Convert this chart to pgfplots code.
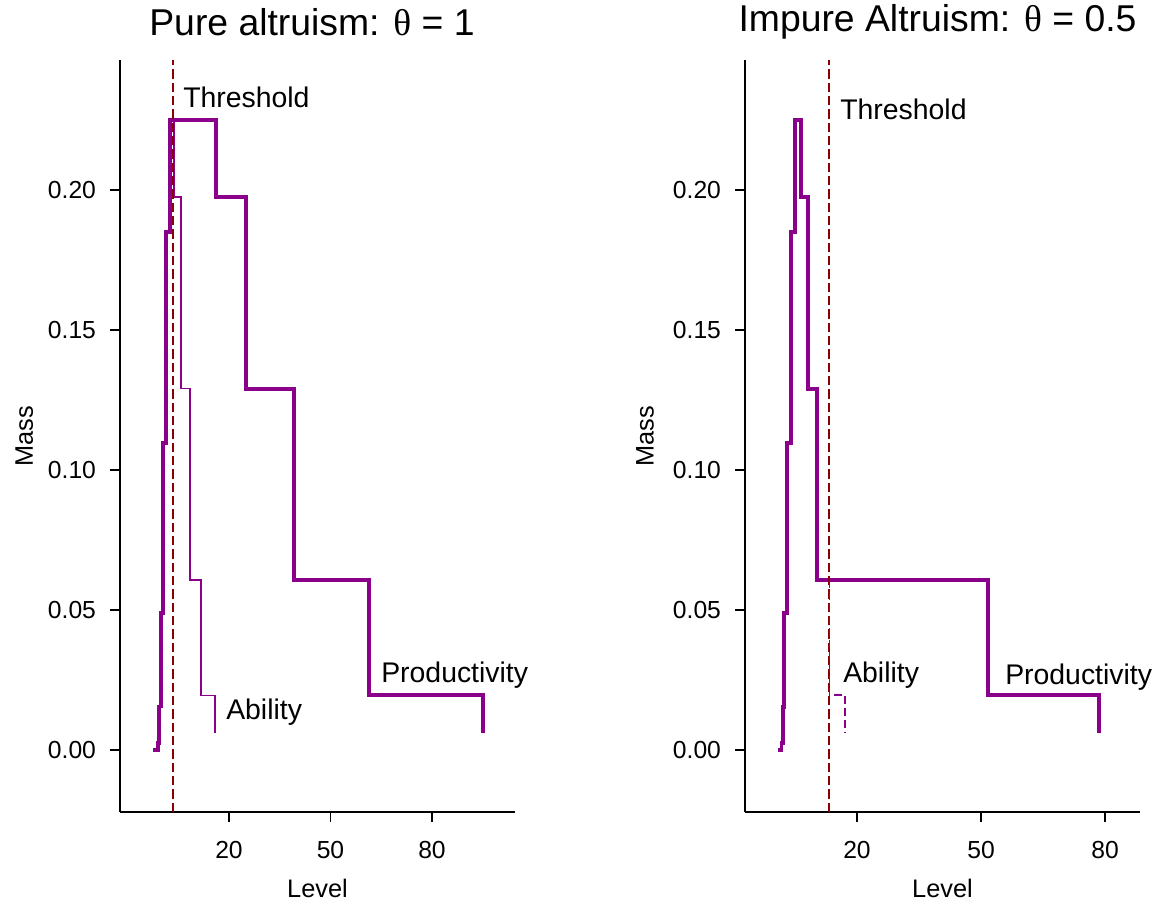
\documentclass[border=0pt]{standalone}
\usepackage{fontspec}
\setmainfont{Liberation Sans}
\newfontfamily\grk{Liberation Serif}
\usepackage{pgfplots}
\pgfplotsset{compat=1.18}
\definecolor{dm}{HTML}{8B008B}
\definecolor{dr}{HTML}{8B0000}
\tikzset{
 prod/.style={dm, line width=2.8pt, line join=miter},
 abil/.style={dm, line width=0.9pt},
 thr/.style={dr, line width=1.3pt, dash pattern=on 7pt off 3pt},
 ann/.style={anchor=west, inner sep=0pt, font=\fontsize{21.3}{24}\selectfont},
}
\begin{document}
\begin{tikzpicture}[x=0.75pt,y=0.75pt]
\useasboundingbox (0,0) rectangle (1166,911);
\pgfplotsset{
 panel/.style={
  at={(#1,74.25pt)}, anchor=south west, scale only axis,
  width=296.25pt, height=564pt,
  axis lines*=left,
  axis line style={line width=1.1pt, black},
  ymin=-0.02214, ymax=0.2464,
  xtick={20,50,80}, ytick={0,0.05,0.1,0.15,0.2},
  xtick align=outside, ytick align=outside, major tick length=7.5pt,
  xtick style={draw=black, line width=1.1pt},
  ytick style={draw=black, line width=1.1pt},
  ticklabel style={font=\fontsize{18.5}{20}\selectfont},
  xticklabel style={yshift=-11pt},
  yticklabel style={xshift=-7pt, /pgf/number format/.cd, fixed, fixed zerofill, precision=2},
  /pgf/number format/assume math mode=true,
  label style={font=\fontsize{19}{22}\selectfont},
  xlabel={Level}, ylabel={Mass},
  xlabel style={at={(axis description cs:0.5,-0.102)}, anchor=center},
  clip=false,
  const plot,
 },
}
% Left panel
\begin{axis}[panel=90pt, xmin=-12.22, xmax=104.54,
  ylabel style={at={(axis description cs:-0.242,0.5)}, anchor=center}]
\addplot[abil] coordinates {(-2.38,0) (-0.90,0.0024) (-0.60,0.0155) (-0.10,0.049) (0.49,0.1096) (1.38,0.185) (2.56,0.225) (3.74,0.1975) (5.81,0.129) (8.47,0.0607) (11.72,0.0196) (15.86,0.006)};
\addplot[prod] coordinates {(-2.38,0) (-0.90,0.0024) (-0.60,0.0155) (-0.10,0.049) (0.49,0.1096) (1.38,0.185) (2.56,0.225) (16.16,0.1975) (25.02,0.129) (39.21,0.0607) (61.38,0.0196) (95.08,0.006)};
\addplot[thr, sharp plot] coordinates {(3.45,-0.02214) (3.45,0.2464)};
\node[ann] at (axis cs:6.40,0.2332) {Threshold};
\node[ann] at (axis cs:64.93,0.0268) {Productivity};
\node[ann] at (axis cs:19.11,0.0136) {Ability};
\end{axis}
% Right panel
\begin{axis}[panel=558.75pt, xmin=-7.09, xmax=88.46,
  ylabel style={at={(axis description cs:-0.253,0.5)}, anchor=center}]
\addplot[prod] coordinates {(0.81,0) (1.73,0.0025) (2.02,0.0154) (2.41,0.049) (3.06,0.1096) (4.03,0.185) (5.00,0.225) (6.45,0.1975) (8.22,0.129) (10.40,0.0607) (51.69,0.0196) (78.60,0.006)};
\addplot[thr, sharp plot] coordinates {(13.30,-0.02214) (13.30,0.2464)};
\addplot[dm, line width=1.1pt, dash pattern=on 6pt off 3pt] coordinates {(10.40,0.0607) (13.30,0.0196) (17.10,0.006)};
\node[ann] at (axis cs:15.89,0.2286) {Threshold};
\node[ann] at (axis cs:16.61,0.0268) {Ability};
\node[ann] at (axis cs:55.80,0.0261) {Productivity};
\end{axis}
\node[font=\fontsize{28}{30}\selectfont] at (312,889) {Pure altruism: {\grk θ} = 1};
\node[font=\fontsize{28}{30}\selectfont] at (937.5,889) {Impure Altruism: {\grk θ} = 0.5};
\end{tikzpicture}
\end{document}
